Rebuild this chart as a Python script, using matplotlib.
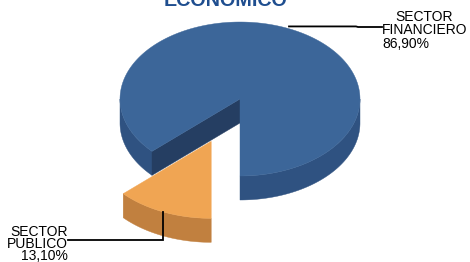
import numpy as np
import matplotlib
matplotlib.use("Agg")
import matplotlib.pyplot as plt
from matplotlib.patches import Polygon

# ---- data ----
categories = ["SECTOR FINANCIERO", "SECTOR PUBLICO"]
values = [86.90, 13.10]
pct_labels = ["86,90%", "13,10%"]
explode = [0.0, 0.6]
title = "ECONÓMICO"

# ---- style / geometry (pixel space) ----
W, H = 470, 262
cx, cy = 240.0, 99.0
rx, ry = 120.0, 77.0
depth = 24.0
start_angle = 270.0
top_colors = ["#3C6699", "#F0A553"]
side_colors = ["#2F5281", "#C1803F"]
cut_colors = ["#253E62", "#9E6630"]

plt.rcParams['font.family'] = ['Liberation Sans', 'DejaVu Sans']
fig = plt.figure(figsize=(W / 100, H / 100), dpi=100)
ax = fig.add_axes([0, 0, 1, 1])
ax.set_xlim(0, W)
ax.set_ylim(H, 0)
ax.axis('off')


def rim(theta_deg, ox, oy, dz=0.0):
    t = np.radians(theta_deg)
    return ox + rx * np.cos(t), oy - ry * np.sin(t) + dz


def draw_wedge(t1, t2, ox, oy, top_c, side_c, cut_c):
    # outer side: visible where sin(theta) < 0 (front half)
    k0 = int(np.floor(t1 / 360.0)) - 1
    for k in range(k0, k0 + 4):
        a, b = 180 + 360 * k, 360 + 360 * k
        lo, hi = max(t1, a), min(t2, b)
        if hi > lo:
            th = np.linspace(lo, hi, 80)
            xs, ys = rim(th, ox, oy)
            xb, yb = rim(th[::-1], ox, oy, depth)
            pts = np.column_stack([np.concatenate([xs, xb]), np.concatenate([ys, yb])])
            ax.add_patch(Polygon(pts, closed=True, facecolor=side_c, edgecolor=side_c, lw=0.3))
    # cut faces
    for th, vis in ((t1, np.cos(np.radians(t1)) > 1e-6), (t2, np.cos(np.radians(t2)) < -1e-6)):
        if vis:
            x1, y1 = rim(th, ox, oy)
            pts = [(ox, oy), (x1, y1), (x1, y1 + depth), (ox, oy + depth)]
            ax.add_patch(Polygon(pts, closed=True, facecolor=cut_c, edgecolor=cut_c, lw=0.3))
    # top face
    th = np.linspace(t1, t2, 200)
    xs, ys = rim(th, ox, oy)
    pts = np.column_stack([np.concatenate([[ox], xs]), np.concatenate([[oy], ys])])
    ax.add_patch(Polygon(pts, closed=True, facecolor=top_c, edgecolor=top_c, lw=0.3))


total = float(sum(values))
angles = []
a = start_angle
for v in values:
    span = 360.0 * v / total
    angles.append((a, a + span))
    a += span

anchors = []
for i, (t1, t2) in enumerate(angles):
    mid = np.radians((t1 + t2) / 2)
    ox = cx + explode[i] * rx * np.cos(mid)
    oy = cy - explode[i] * ry * np.sin(mid)
    draw_wedge(t1, t2, ox, oy, top_colors[i], side_colors[i], cut_colors[i])
    anchors.append(rim((t1 + t2) / 2, ox, oy))

# ---- leader lines ----
lw = 1.3
ax0, ay0 = anchors[0]
ax.plot([ax0 + 1, 356, 358, 382], [ay0 - 2, ay0 - 2, 27, 27], color='black', lw=lw,
        solid_joinstyle='miter')
ax1, ay1 = anchors[1]
ax.plot([ax1, ax1, 68], [ay1, 240, 240], color='black', lw=lw, solid_joinstyle='miter')

# ---- labels ----
fs = 10
w0 = categories[0].split()
ax.text(424, 21, w0[0], ha='center', va='baseline', fontsize=fs, color='black')
ax.text(382, 34.5, w0[1], ha='left', va='baseline', fontsize=fs, color='black')
ax.text(382, 48, pct_labels[0], ha='left', va='baseline', fontsize=fs, color='black')

w1 = categories[1].split()
ax.text(68, 235.5, w1[0], ha='right', va='baseline', fontsize=fs, color='black')
ax.text(68, 248, w1[1], ha='right', va='baseline', fontsize=fs, color='black')
ax.text(68, 259.5, pct_labels[1], ha='right', va='baseline', fontsize=fs, color='black')

# ---- title (partially cut at top, as in the reference) ----
ax.text(225.5, 6.5, title, ha='center', va='baseline', fontsize=14.2,
        fontweight='bold', color='#1F4E8F')

fig.savefig("out.png", dpi=100)
